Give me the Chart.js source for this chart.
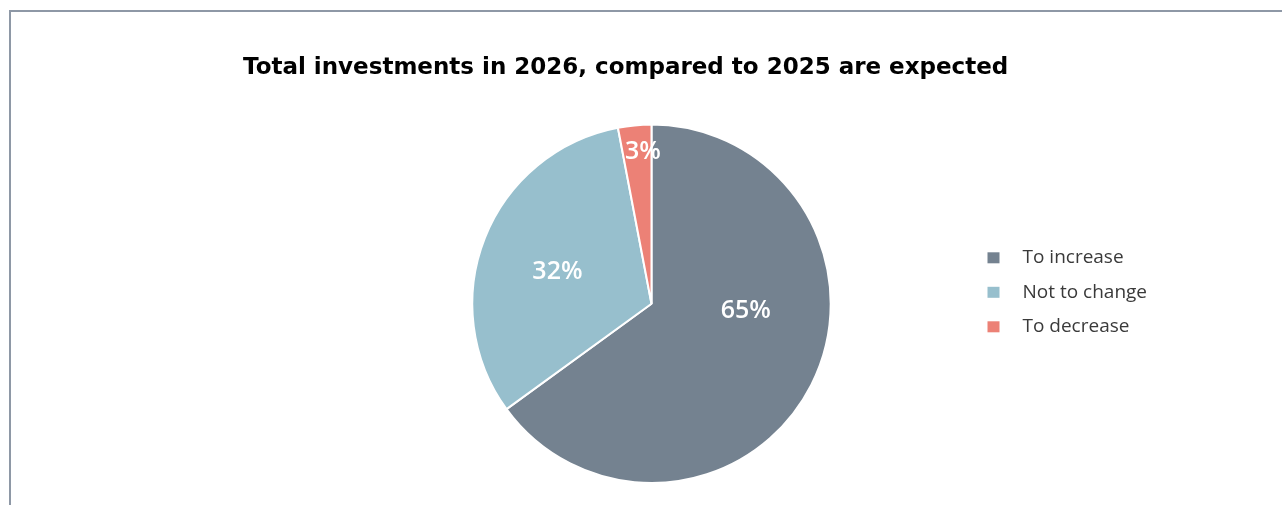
<!DOCTYPE html>
<html>
<head>
<meta charset="utf-8">
<title>Total investments in 2026</title>
<script src="https://cdn.jsdelivr.net/npm/chart.js@4/dist/chart.umd.min.js"></script>
<style>
  html, body { margin: 0; padding: 0; background: #ffffff; overflow: hidden; }
  #frame {
    position: absolute; left: 9px; top: 10px; width: 1400px; height: 600px;
    border-top: 2px solid #8e98a6; border-left: 2px solid #8e98a6;
  }
  #wrap { position: absolute; left: 0; top: 0; width: 1282px; height: 505px; }
</style>
</head>
<body>
<div id="frame"></div>
<div id="wrap"><canvas id="chart" width="1282" height="505"></canvas></div>
<script>
// Survey answers: expected change of total investments, 2026 vs 2025 (% of respondents)
const chartTitle = 'Total investments in 2026, compared to 2025 are expected';
const categories = ['To increase', 'Not to change', 'To decrease'];
const shares = [65, 32, 3];
const sliceColors = ['#748290', '#97bfcd', '#ec8176'];

// Where each percentage label sits inside its slice:
// fraction of the way along the arc, and fraction of the radius
const labelAlong = [0.40, 0.48, 0.70];
const labelRadial = [0.527, 0.556, 0.854];

// Percentage labels drawn on top of the slices
const sliceLabels = {
  id: 'sliceLabels',
  afterDatasetsDraw(chart) {
    const ctx = chart.ctx;
    const arcs = chart.getDatasetMeta(0).data;
    ctx.save();
    ctx.fillStyle = '#ffffff';
    ctx.font = '600 25px "Open Sans"';
    ctx.textAlign = 'center';
    ctx.textBaseline = 'middle';
    arcs.forEach((arc, i) => {
      const p = arc.getProps(['x', 'y', 'startAngle', 'endAngle', 'outerRadius'], true);
      const a = p.startAngle + (p.endAngle - p.startAngle) * labelAlong[i];
      const r = p.outerRadius * labelRadial[i];
      ctx.fillText(shares[i] + '%', p.x + Math.cos(a) * r, p.y + Math.sin(a) * r + 1);
    });
    ctx.restore();
  }
};

// Legend listed to the right of the pie
const sideLegend = {
  id: 'sideLegend',
  afterDraw(chart) {
    const ctx = chart.ctx;
    const arc = chart.getDatasetMeta(0).data[0];
    const cx = arc.x, cy = arc.y;
    const boxX = cx + 336, textX = cx + 371, firstY = cy - 46, step = 34.5;
    ctx.save();
    ctx.font = '19px "Open Sans"';
    ctx.textBaseline = 'middle';
    ctx.textAlign = 'left';
    categories.forEach((name, i) => {
      const y = firstY + i * step;
      ctx.fillStyle = sliceColors[i];
      ctx.fillRect(boxX, y - 5.5, 12, 11);
      ctx.fillStyle = '#3a3a3a';
      ctx.fillText(name, textX, y);
    });
    ctx.restore();
  }
};

function draw() {
  new Chart(document.getElementById('chart'), {
    type: 'pie',
    data: {
      labels: categories,
      datasets: [{
        data: shares,
        backgroundColor: sliceColors,
        borderColor: '#ffffff',
        borderWidth: 2,
        hoverOffset: 0
      }]
    },
    options: {
      responsive: false,
      animation: false,
      events: [],
      layout: { padding: { left: 243, right: 222, top: 0, bottom: 21 } },
      plugins: {
        legend: { display: false },
        tooltip: { enabled: false },
        title: {
          display: true,
          text: chartTitle,
          align: 'start',
          color: '#000000',
          font: { family: '"DejaVu Sans"', size: 23, weight: 'bold', lineHeight: 1.2 },
          padding: { top: 54, bottom: 42 }
        }
      }
    },
    plugins: [sliceLabels, sideLegend]
  });
}

Promise.all([
  document.fonts.load('19px "Open Sans"'),
  document.fonts.load('600 25px "Open Sans"'),
  document.fonts.load('bold 23px "DejaVu Sans"')
]).then(draw, draw);
</script>
</body>
</html>
